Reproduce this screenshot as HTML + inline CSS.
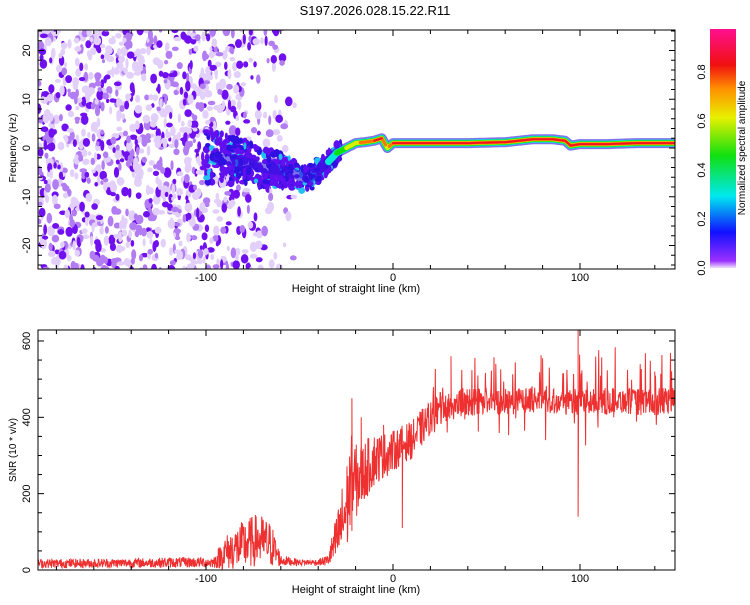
<!DOCTYPE html>
<html><head><meta charset="utf-8"><style>
body{margin:0;background:#fff;font-family:"Liberation Sans",sans-serif}
svg text{font-family:"Liberation Sans",sans-serif;font-size:11px;fill:#000}
</style></head><body>
<svg id="s" width="750" height="600" viewBox="0 0 750 600">
<defs>
<linearGradient id="cb" x1="0" y1="1" x2="0" y2="0">
<stop offset="0" stop-color="#f0e0ff"/><stop offset="0.03" stop-color="#9a30ff"/>
<stop offset="0.15" stop-color="#1010ff"/><stop offset="0.3" stop-color="#00e8f0"/>
<stop offset="0.47" stop-color="#10e010"/><stop offset="0.63" stop-color="#e8f000"/>
<stop offset="0.75" stop-color="#ff9000"/><stop offset="0.85" stop-color="#f01010"/>
<stop offset="1" stop-color="#ff1090"/></linearGradient>
<clipPath id="c1"><rect x="38" y="30" width="637" height="239"/></clipPath>
<clipPath id="c2"><rect x="38" y="330" width="637" height="240"/></clipPath>
</defs>
<text x="375" y="15" text-anchor="middle" style="font-size:13px">S197.2026.028.15.22.R11</text>
<g id="heat" clip-path="url(#c1)"></g>
<g id="snr" clip-path="url(#c2)"></g>
<g id="axes"></g>
<rect x="710" y="29" width="26" height="239" fill="url(#cb)"/>
<text transform="translate(745,148) rotate(-90)" x="0" y="0" text-anchor="middle" style="font-size:10px">Normalized spectral amplitude</text>
</svg>
<script>
// ---- data ----
const ridgeKm   = [-95,-85,-78,-70,-62,-55,-48,-44,-40,-35,-30,-25,-20,-15,-10,-6,-3,0,10,20,40,60,75,85,92,95,100,115,130,150];
const ridgeHz   = [-2,-2.5,-3,-4,-4.5,-5,-6,-6,-4.5,-3,-1,0,1,1.2,1.5,2,0,1,1,1,1,1.2,1.8,1.8,1.5,0.5,0.8,0.8,1,1];
const ridgeAmp  = [0.2,0.22,0.22,0.22,0.22,0.24,0.26,0.3,0.3,0.35,0.45,0.6,0.7,0.8,0.85,0.85,0.7,0.85,0.9,0.92,0.92,0.92,0.95,0.95,0.92,0.85,0.9,0.9,0.92,0.92];
const snrKm     = [-190,-150,-110,-96,-90,-80,-72,-65,-60,-50,-40,-35,-30,-25,-22,-20,-15,-10,-5,0,5,10,15,20,25,30,40,50,60,70,80,90,100,110,120,130,140,150];
const snrVal    = [17,18,20,20,45,65,80,65,25,20,20,25,80,160,230,230,260,290,300,310,330,340,370,400,420,430,440,445,440,445,450,440,440,440,445,440,440,445];
const snrNoise  = [12,12,14,14,45,65,70,60,15,8,8,15,70,120,130,100,80,70,60,55,50,50,50,45,45,40,40,35,35,35,35,35,35,35,35,35,35,35];
const snrSpikeKm  = [-22,-17,-5,5,31,55,80,99,99,118,140];
const snrSpikeVal = [450,400,380,110,560,540,555,628,140,400,520];
const xTicks = [-100,0,100];
const fTicks = [-20,-10,0,10,20];
const sTicks = [0,200,400,600];
const cTicks = [0,0.2,0.4,0.6,0.8];
// ---- scales ----
const X = k => 393 + k*1.87;
const F = h => 148 - h*4.875;
const S = v => 570 - v*0.3817;
const C = a => 268 - a*245;
function interp(xs,ys,x){if(x<=xs[0])return ys[0];for(let i=1;i<xs.length;i++){if(x<=xs[i]){const t=(x-xs[i-1])/(xs[i]-xs[i-1]);return ys[i-1]+t*(ys[i]-ys[i-1]);}}return ys[ys.length-1];}
let seed=12345;const rnd=()=>{seed=(seed*1103515245+12345)%2147483648;return seed/2147483648;};
const NS='http://www.w3.org/2000/svg';
function mk(tag,attrs,parent){const e=document.createElementNS(NS,tag);for(const k in attrs)e.setAttribute(k,attrs[k]);parent.appendChild(e);return e;}
function colorOf(a){const st=[[0,[240,224,255]],[0.05,[154,48,255]],[0.15,[16,16,255]],[0.3,[0,232,240]],[0.47,[16,224,16]],[0.63,[232,240,0]],[0.75,[255,144,0]],[0.85,[240,16,16]],[1,[255,16,144]]];
 for(let i=1;i<st.length;i++){if(a<=st[i][0]){const t=(a-st[i-1][0])/(st[i][0]-st[i-1][0]);const c=st[i-1][1].map((v,j)=>Math.round(v+t*(st[i][1][j]-v)));return `rgb(${c})`;}}return 'rgb(255,16,144)';}
// ---- spectrogram texture ----
const heat=document.getElementById('heat');
for(let i=0;i<1900;i++){
 const k=-192+rnd()*140; const dens=k<-95?0.8:Math.max(0,(-50-k)/55);
 if(rnd()>dens)continue;
 const h=-26+rnd()*52; const r=rnd();
 const e=mk('ellipse',{cx:X(k),cy:F(h),rx:1.5+rnd()*2.5,ry:2+rnd()*3.5,fill:r<0.28?'#7010f0':(r<0.55?'#b27cf2':'#e2d0fa')},heat);
 
 
}
// cloud around ridge in transition zone
for(let i=0;i<450;i++){
 const k=-100+rnd()*72; const h=interp(ridgeKm,ridgeHz,k)+(rnd()-0.5)*11*(1-(k+100)/110);
 const r=rnd();
 const e=mk('ellipse',{cx:X(k),cy:F(h),rx:1.5+rnd()*2.5,ry:2+rnd()*2.5,fill:r<0.55?'#6010f0':(r<0.88?'#3010e0':'#20c0f0')},heat);
 
 
}
// ridge layers
const layers=[[0.2,10],[0.3,7],[0.45,5.5],[0.6,4.2],[0.75,3.2],[0.85,2]];
layers.forEach(([lv,w])=>{
 let d='';let started=false;
 for(let k=-95;k<=152;k+=0.5){const a=interp(ridgeKm,ridgeAmp,k);
  if(a>=lv&&(k>-35||lv<=0.2)){d+=(started?'L':'M')+X(k).toFixed(1)+' '+F(interp(ridgeKm,ridgeHz,k)).toFixed(1);started=true;}else started=false;}
 const p=mk('path',{d:d,fill:'none',stroke:lv<=0.2?'#3010e0':colorOf(lv+0.02),'stroke-width':w,'stroke-linejoin':'round','stroke-linecap':'round',opacity:lv<=0.2?0.6:1},heat);
 
 
});
// ---- SNR ----
const snr=document.getElementById('snr');
let d='';
for(let k=-190;k<=151;k+=0.2){
 let v=interp(snrKm,snrVal,k)+(rnd()-0.5)*2*interp(snrKm,snrNoise,k);
 if(k>20&&rnd()<0.06)v+=40+70*rnd();
 if(k>20&&rnd()<0.02)v-=40+60*rnd();
 d+=(d?'L':'M')+X(k).toFixed(1)+' '+S(Math.max(0,v)).toFixed(1);
 snrSpikeKm.forEach((sk,i)=>{if(Math.abs(k-sk)<0.1)d+='L'+X(k).toFixed(1)+' '+S(snrSpikeVal[i]).toFixed(1);});
}
const sp=mk('path',{d:d,fill:'none',stroke:'#ee3030','stroke-width':1},snr);


// ---- axes ----
const ax=document.getElementById('axes');
function frame(y0,y1,name){
 const r=mk('rect',{x:38,y:y0,width:637,height:y1-y0,fill:'none',stroke:'#000','stroke-width':1},ax);
 
 
 for(let k=-180;k<=150;k+=20){const x=X(k);const big=(k%100===0);
  mk('line',{x1:x,y1:y1,x2:x,y2:y1-(big?6:4),stroke:'#000'},ax);mk('line',{x1:x,y1:y0,x2:x,y2:y0+(big?6:4),stroke:'#000'},ax);}
}
frame(30,269,'spectrogram-frame');frame(330,570,'snr-frame');
xTicks.forEach(k=>{[281,582].forEach(y=>{const t=mk('text',{x:X(k),y:y,'text-anchor':'middle'},ax);t.textContent=k;
 
 });});
[292,593].forEach(y=>{const t=mk('text',{x:356,y:y,'text-anchor':'middle'},ax);t.textContent='Height of straight line (km)';
 
 });
for(let h=-24;h<=24;h+=2){const y=F(h);mk('line',{x1:38,y1:y,x2:h%10===0?44:42,y2:y,stroke:'#000'},ax);mk('line',{x1:675,y1:y,x2:h%10===0?669:671,y2:y,stroke:'#000'},ax);}
fTicks.forEach(h=>{const t=mk('text',{transform:`translate(30,${F(h)}) rotate(-90)`,'text-anchor':'middle'},ax);t.textContent=h;
 
 });
const ft=mk('text',{transform:'translate(16,148) rotate(-90)','text-anchor':'middle',style:'font-size:10px'},ax);ft.textContent='Frequency (Hz)';


for(let v=0;v<=620;v+=50){const y=S(v);mk('line',{x1:38,y1:y,x2:v%200===0?44:42,y2:y,stroke:'#000'},ax);mk('line',{x1:675,y1:y,x2:v%200===0?669:671,y2:y,stroke:'#000'},ax);}
sTicks.forEach(v=>{const t=mk('text',{transform:`translate(30,${S(v)}) rotate(-90)`,'text-anchor':'middle'},ax);t.textContent=v;
 
 });
const st=mk('text',{transform:'translate(16,450) rotate(-90)','text-anchor':'middle',style:'font-size:10px'},ax);st.textContent='SNR (10 * v/v)';


cTicks.forEach(a=>{const t=mk('text',{transform:`translate(705,${C(a)}) rotate(-90)`,'text-anchor':'middle'},ax);t.textContent=a.toFixed(1);
 
 });
</script>
</body></html>
